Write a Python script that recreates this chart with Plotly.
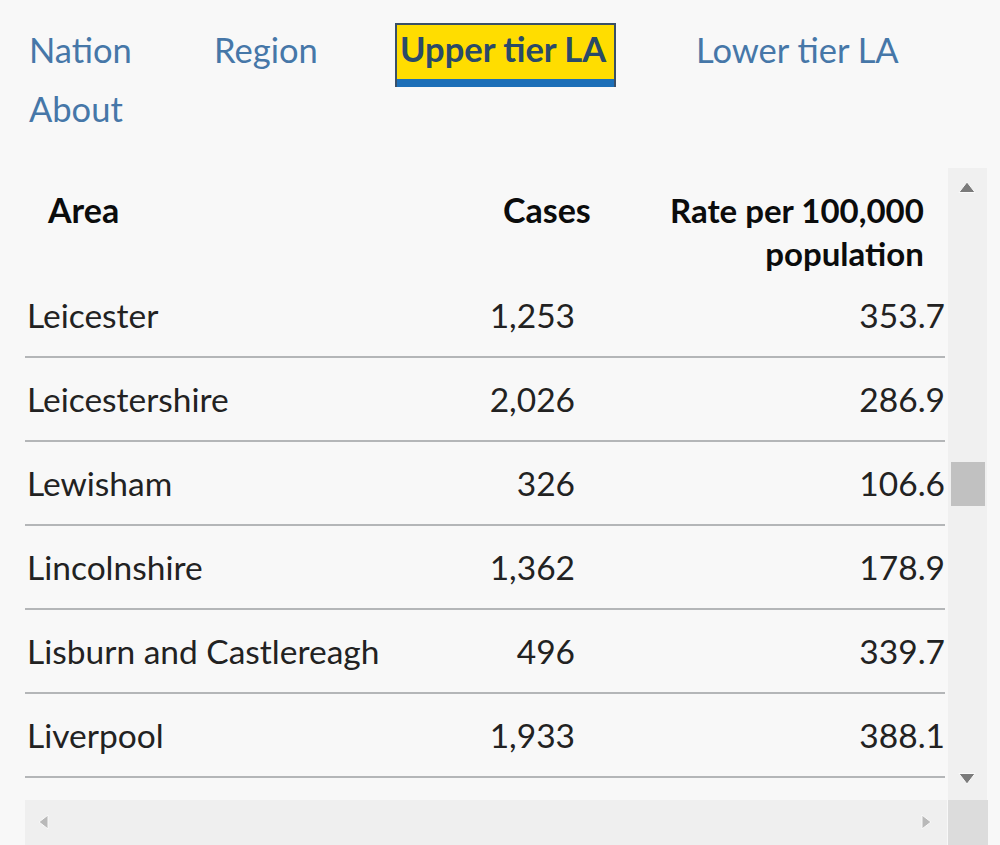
import plotly.graph_objects as go

# Données du tableau (zone, cas, taux pour 100 000)
areas = ["Leicester", "Leicestershire", "Lewisham", "Lincolnshire",
         "Lisburn and Castlereagh", "Liverpool"]
cases = [1253, 2026, 326, 1362, 496, 1933]
rates = [353.7, 286.9, 106.6, 178.9, 339.7, 388.1]

tabs = ["Nation", "Region", "Upper tier LA", "Lower tier LA", "About"]
selected_tab = "Upper tier LA"
headers = ["Area", "Cases", "Rate per 100,000<br>population"]

W, H = 1000, 845
BG = "#f8f8f8"
FONT = "Lato, 'Noto Sans', sans-serif"
LINK = "#4677a8"
TXT = "#222222"

# Géométrie des lignes du tableau (pixels)
row_top = 320
row_h = 84
row_y = [row_top + row_h * i for i in range(len(areas))]

fig = go.Figure()

# Colonnes du tableau
fig.add_trace(go.Scatter(
    x=[27] * len(areas), y=row_y, mode="text", text=areas,
    textposition="middle right",
    textfont=dict(family=FONT, size=33.5, color=TXT),
    hoverinfo="skip", showlegend=False,
))
fig.add_trace(go.Scatter(
    x=[575] * len(cases), y=row_y, mode="text",
    text=[f"{c:,}" for c in cases],
    textposition="middle left",
    textfont=dict(family=FONT, size=33.5, color=TXT),
    hoverinfo="skip", showlegend=False,
))
fig.add_trace(go.Scatter(
    x=[945] * len(rates), y=row_y, mode="text",
    text=[f"{r:.1f}" for r in rates],
    textposition="middle left",
    textfont=dict(family=FONT, size=33.5, color=TXT),
    hoverinfo="skip", showlegend=False,
))

# Lignes de séparation entre les rangées
for y in row_y:
    fig.add_shape(type="line", x0=25, x1=945, y0=y + 37, y1=y + 37,
                  line=dict(color="#b4b6b8", width=2), layer="below")

# Onglets
tab_pos = [(27, 49), (212, 49), (400, 49), (694, 49), (27, 108)]
for label, (x, y) in zip(tabs, tab_pos):
    if label == selected_tab:
        fig.add_shape(type="rect", x0=396, x1=615, y0=24, y1=86,
                      fillcolor="#ffdd00", line=dict(color="#3a5068", width=2))
        fig.add_shape(type="rect", x0=397, x1=614, y0=79, y1=87,
                      fillcolor="#1d6fb8", line=dict(width=0))
        fig.add_annotation(x=x - 2, y=y - 1, text=f"<b>{label}</b>", showarrow=False,
                           xanchor="left", yanchor="middle",
                           font=dict(family=FONT, size=34.5, color="#2a4a68"))
    else:
        fig.add_annotation(x=x, y=y, text=label, showarrow=False,
                           xanchor="left", yanchor="middle",
                           font=dict(family=FONT, size=34.5, color=LINK))

# En-têtes
fig.add_annotation(x=45, y=209, text=f"<b>{headers[0]}</b>", showarrow=False,
                   xanchor="left", yanchor="middle",
                   font=dict(family=FONT, size=34, color="#0b0c0c"))
fig.add_annotation(x=593, y=209, text=f"<b>{headers[1]}</b>", showarrow=False,
                   xanchor="right", yanchor="middle",
                   font=dict(family=FONT, size=34, color="#0b0c0c"))
fig.add_annotation(x=926, y=231, text=f"<b>{headers[2]}</b>", showarrow=False,
                   xanchor="right", yanchor="middle", align="right",
                   font=dict(family=FONT, size=33, color="#0b0c0c"))

# Barres de défilement
fig.add_shape(type="rect", x0=948, x1=987, y0=168, y1=800,
              fillcolor="#f0f0f0", line=dict(width=0), layer="below")
fig.add_shape(type="rect", x0=951, x1=985, y0=462, y1=506,
              fillcolor="#c1c1c1", line=dict(width=0))
fig.add_shape(type="rect", x0=25, x1=947, y0=800, y1=845,
              fillcolor="#efefef", line=dict(width=0), layer="below")
fig.add_shape(type="rect", x0=948, x1=988, y0=800, y1=845,
              fillcolor="#dcdcdc", line=dict(width=0), layer="below")
fig.add_trace(go.Scatter(
    x=[967, 967, 45, 925], y=[189, 777, 822, 822], mode="markers",
    marker=dict(symbol=["triangle-up", "triangle-down", "triangle-left", "triangle-right"],
                size=[14, 14, 12, 12],
                color=["#4a4a4a", "#4a4a4a", "#a3a3a3", "#a3a3a3"]),
    hoverinfo="skip", showlegend=False,
))

fig.update_layout(
    width=W, height=H,
    margin=dict(l=0, r=0, t=0, b=0),
    paper_bgcolor=BG, plot_bgcolor=BG,
    xaxis=dict(range=[0, W], visible=False, fixedrange=True),
    yaxis=dict(range=[H, 0], visible=False, fixedrange=True),
)

# Suppression de la marge du <body> pour que la figure occupe toute la fenêtre
fig.write_html("out.html", config={"displayModeBar": False},
               post_script="document.body.style.margin='0';document.body.style.overflow='hidden';")
